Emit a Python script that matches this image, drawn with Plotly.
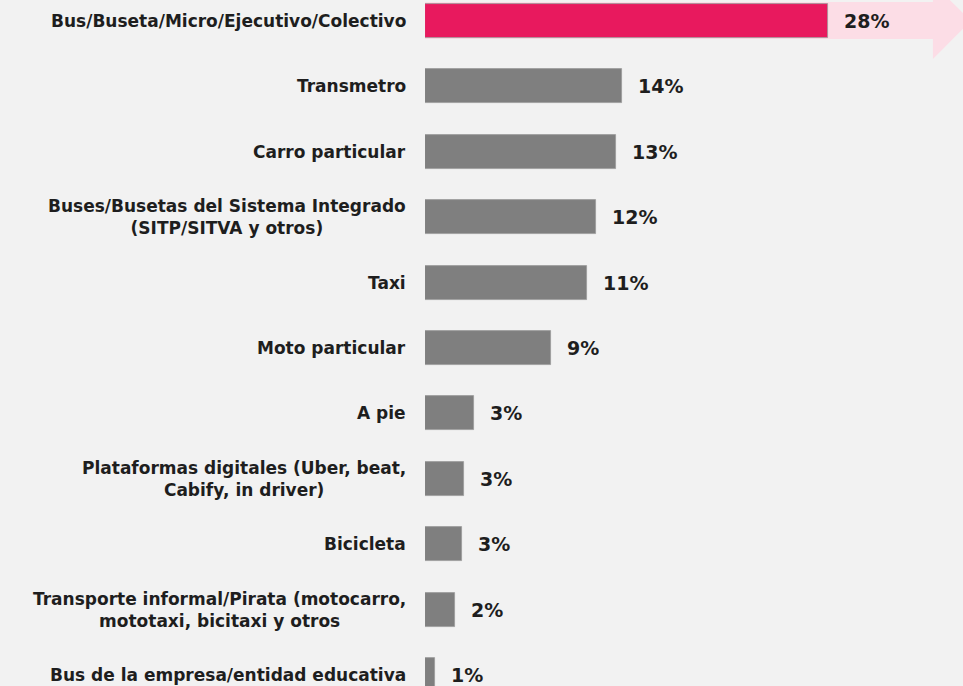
import plotly.graph_objects as go

categories = [
    "Bus/Buseta/Micro/Ejecutivo/Colectivo",
    "Transmetro",
    "Carro particular",
    "Buses/Busetas del Sistema Integrado<br>(SITP/SITVA y otros)",
    "Taxi",
    "Moto particular",
    "A pie",
    "Plataformas digitales (Uber, beat,<br>Cabify, in driver)",
    "Bicicleta",
    "Transporte informal/Pirata (motocarro,<br>mototaxi, bicitaxi y otros",
    "Bus de la empresa/entidad educativa",
]
values = [28.1, 13.75, 13.3, 11.9, 11.3, 8.8, 3.4, 2.7, 2.6, 2.1, 0.7]
highlight = 0  # index of the bar drawn in pink

PINK = "#E8195E"
LIGHT_PINK = "#FCDDE6"
GREY = "#7F7F7F"
BG = "#F2F2F2"
TXT = "#1E1E1E"
FONT = "DejaVu Sans"

pos = list(range(len(categories)))
colors = [PINK if i == highlight else GREY for i in pos]

fig = go.Figure()
fig.add_trace(go.Bar(
    x=values, y=pos, orientation="h", width=0.52,
    marker=dict(color=colors, line=dict(color="#9a9a9a", width=0.8)),
    hoverinfo="skip",
))

# arrow behind the highlighted bar
y0 = pos[highlight]
fig.add_shape(
    type="path", layer="below", xref="x", yref="y",
    path=(f"M 0 {y0 - 0.29} L 35.45 {y0 - 0.29} L 35.45 {y0 - 0.58} "
          f"L 38.1 {y0} L 35.45 {y0 + 0.58} L 35.45 {y0 + 0.275} "
          f"L 0 {y0 + 0.275} Z"),
    fillcolor=LIGHT_PINK, line=dict(width=0),
)

for p, v in zip(pos, values):
    fig.add_annotation(
        x=v, y=p, xref="x", yref="y", text=f"<b>{v:.0f}%</b>",
        showarrow=False, xanchor="left", xshift=14,
        font=dict(family=FONT, size=19, color=TXT),
    )

for p, c in zip(pos, categories):
    fig.add_annotation(
        x=0, y=p, xref="paper", yref="y", text=f"<b>{c}</b>",
        showarrow=False, xanchor="right", xshift=-17, align="center",
        font=dict(family=FONT, size=17, color=TXT),
    )

fig.update_xaxes(range=[0, 37.55], visible=False, fixedrange=True)
fig.update_yaxes(range=[10.168, -0.321], visible=False, fixedrange=True)
fig.update_layout(
    width=963, height=686,
    margin=dict(l=425, r=0, t=0, b=0),
    paper_bgcolor=BG, plot_bgcolor=BG,
    showlegend=False, bargap=0,
)

fig.write_html(
    "out.html",
    config={"displayModeBar": False},
    post_script="document.body.style.margin='0';document.body.style.overflow='hidden';",
)
